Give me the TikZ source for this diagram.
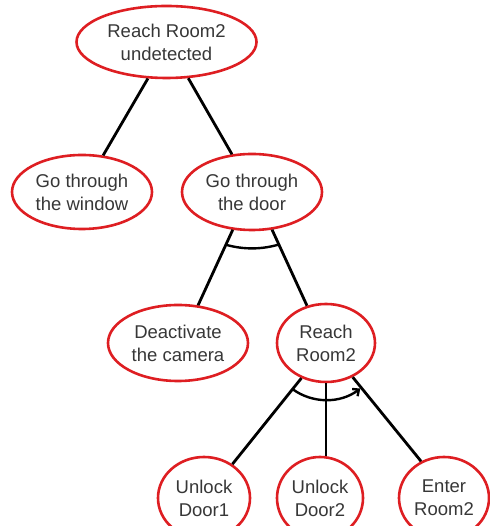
\documentclass[tikz,border=0pt]{standalone}
\usepackage{fontspec}
\setmainfont{Liberation Sans}
\usetikzlibrary{shapes.geometric,arrows.meta}
\definecolor{goalred}{RGB}{222,30,34}
\definecolor{goaltext}{RGB}{55,55,55}
\tikzset{
  goal/.style={ellipse, draw=goalred, line width=2.6pt, fill=white,
    inner sep=0pt, align=center, text=goaltext,
    font=\fontsize{18.5}{23}\selectfont},
  link/.style={line width=2.8pt, black},
  andarc/.style={line width=2.4pt, black},
}
\begin{document}
\begin{tikzpicture}[x=1pt,y=1pt]
\useasboundingbox (0,0) rectangle (489,526);

% goal nodes
\node[goal, minimum width=180, minimum height=72] (root) at (166.5,484) {Reach Room2\\undetected};
\node[goal, minimum width=140, minimum height=74] (window) at (82,334) {Go through\\the window};
\node[goal, minimum width=140, minimum height=76] (door) at (252,334) {Go through\\the door};
\node[goal, minimum width=140, minimum height=76] (camera) at (178,183) {Deactivate\\the camera};
\node[goal, minimum width=98, minimum height=78] (reach) at (326,183) {Reach\\Room2};
\node[goal, minimum width=92, minimum height=82] (door1) at (204,28) {Unlock\\Door1};
\node[goal, minimum width=86, minimum height=82] (door2) at (320,28) {Unlock\\Door2};
\node[goal, minimum width=90, minimum height=82] (enter) at (444,28) {Enter\\Room2};

% decomposition links
\draw[link] (root.-117) -- (window.60);
\draw[link] (root.-59) -- (door.118);
\draw[link] (door.-117) -- (camera.62);
\draw[link] (door.-62) -- (reach.117);
\draw[link] (reach.-125) -- (door1.50);
\draw[link] (reach.south) -- (reach.south |- door2.north);
\draw[link] (reach.-52) -- (enter.122);

% AND refinement arc (shallow, spanning the two links)
\draw[andarc] ([shift={(0,38.6)}]door.center) ++(-106:95) arc[start angle=-106, end angle=-73, radius=95];
% ordered AND refinement arc
\draw[andarc, -{Straight Barb[length=5pt,width=9pt]}] ([shift={(-126:57)}]reach.center) arc[start angle=-126, end angle=-53, radius=57];
\end{tikzpicture}
\end{document}
